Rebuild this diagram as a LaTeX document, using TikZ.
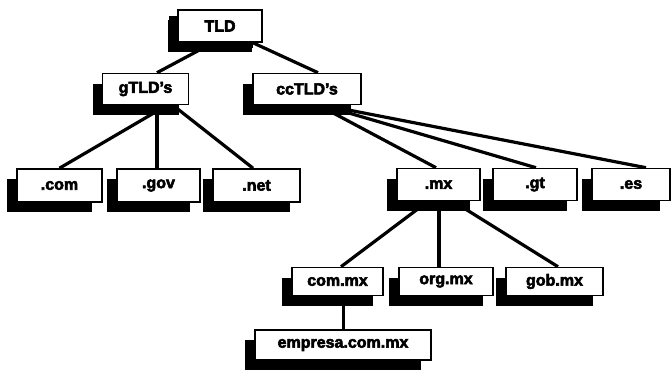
\documentclass[tikz,border=0pt]{standalone}
\usepackage{fontspec}
\setmainfont{Liberation Sans}[BoldFeatures={FakeBold=3.5}]
\usetikzlibrary{shadows,backgrounds}
\tikzset{
  dnsbox/.style={draw=black, line width=1.6pt, fill=white, inner sep=0pt,
    minimum height=32pt, font=\fontsize{16}{18}\selectfont\bfseries,
    drop shadow={shadow xshift=-10pt, shadow yshift=-10pt, fill=black, opacity=1}},
  topbox/.style={dnsbox, drop shadow={shadow xshift=-9pt, shadow yshift=-6pt, fill=black, opacity=1}},
  link/.style={line width=3.2pt, black}
}
\begin{document}
\begin{tikzpicture}[x=1pt,y=-1pt]
\useasboundingbox (0,0) rectangle (672,370);
% nodes
\node[topbox, minimum width=84pt] (tld) at (220,26) {TLD};
\node[dnsbox, minimum width=86pt, minimum height=31pt] (gtld) at (145.5,89) {gTLD’s};
\node[dnsbox, minimum width=108pt, minimum height=31pt] (cctld) at (307,89) {ccTLD’s};
\node[dnsbox, minimum width=85pt, minimum height=33pt] (com) at (59.5,185.5) {.com};
\node[dnsbox, minimum width=83pt, minimum height=33pt] (gov) at (158.5,185.5) {.gov};
\node[dnsbox, minimum width=87pt, minimum height=33pt] (net) at (256.5,185.5) {.net};
\node[dnsbox, minimum width=83pt, minimum height=32pt] (mx) at (438.5,184.5) {.mx};
\node[dnsbox, minimum width=84pt, minimum height=32pt] (gt) at (535,184.5) {.gt};
\node[dnsbox, minimum width=78pt, minimum height=32pt] (es) at (631,184.5) {.es};
\node[dnsbox, minimum width=91pt, minimum height=28pt] (commx) at (337.5,281.5) {com.mx};
\node[dnsbox, minimum width=94pt, minimum height=28pt] (orgmx) at (446,281.5) {org.mx};
\node[dnsbox, minimum width=97pt, minimum height=28pt] (gobmx) at (554.5,281.5) {gob.mx};
\node[dnsbox, minimum width=176pt, minimum height=30pt] (emp) at (343,345) {empresa.com.mx};
\coordinate (cm) at ([xshift=6pt]commx.south);
% connectors
\begin{scope}[on background layer]
\draw[link] ([xshift=-7pt]tld.south) -- ([xshift=11.5pt]gtld.north);
\draw[link] ([xshift=33pt]tld.south) -- ([xshift=11pt]cctld.north);
\draw[link] ([xshift=21.5pt]gtld.south) -- (com.north);
\draw[link] ([xshift=11.5pt]gtld.south) -- ([xshift=-1.5pt]gov.north);
\draw[link] ([xshift=27.5pt]gtld.south) -- ([xshift=-3.5pt]net.north);
\draw[link] ([xshift=23pt,yshift=-6pt]cctld.south) -- ([xshift=-2.5pt]mx.north);
\draw[link] ([xshift=36pt,yshift=-6pt]cctld.south) -- ([xshift=1pt]gt.north);
\draw[link] ([xshift=43pt,yshift=-5pt]cctld.south) -- ([xshift=15pt]es.north);
\draw[link] ([xshift=-10.5pt]mx.south) -- ([xshift=3.5pt]commx.north);
\draw[link] ([xshift=0.5pt]mx.south) -- ([xshift=-7pt]orgmx.north);
\draw[link] ([xshift=14.5pt]mx.south) -- ([xshift=3.5pt]gobmx.north);
\draw[link] (cm) -- (cm |- emp.north);
\end{scope}
\end{tikzpicture}
\end{document}
